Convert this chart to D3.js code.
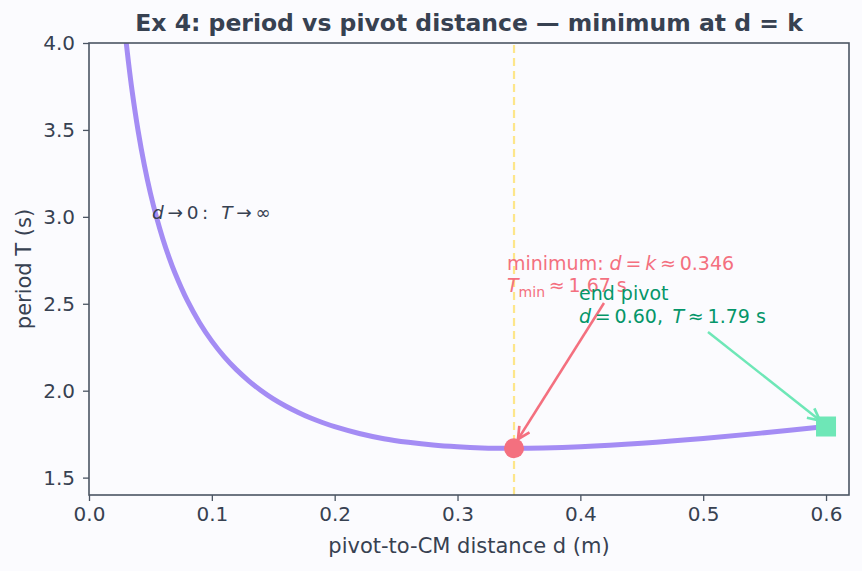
<!DOCTYPE html>
<html>
<head>
<meta charset="utf-8">
<script src="https://cdn.jsdelivr.net/npm/d3@7"></script>
<style>
  body { margin: 0; background: #fbfbfe; }
  svg { display: block; font-family: "DejaVu Sans", sans-serif; }
</style>
</head>
<body>
<svg id="chart"></svg>
<script>
// pivot distance d (m) and period T (s)
const dValues = [0.03, 0.032, 0.035, 0.04, 0.045, 0.05, 0.055, 0.06, 0.065, 0.07, 0.08, 0.09, 0.10, 0.11,
                 0.12, 0.13, 0.14, 0.15, 0.16, 0.17, 0.18, 0.19, 0.20, 0.22, 0.24, 0.26, 0.28, 0.30,
                 0.32, 0.346, 0.37, 0.40, 0.45, 0.50, 0.55, 0.60];
const tValues = [4.022, 3.897, 3.729, 3.494, 3.300, 3.136, 2.997, 2.876, 2.770, 2.677, 2.519, 2.391, 2.285, 2.196,
                 2.121, 2.057, 2.001, 1.953, 1.912, 1.876, 1.844, 1.817, 1.793, 1.754, 1.724, 1.703, 1.687, 1.677,
                 1.671, 1.669, 1.671, 1.678, 1.698, 1.725, 1.758, 1.794];
const xTicks = [0.0, 0.1, 0.2, 0.3, 0.4, 0.5, 0.6];
const yTicks = [1.5, 2.0, 2.5, 3.0, 3.5, 4.0];
const minPoint = { d: 0.346, T: 1.669 };
const endPoint = { d: 0.60, T: 1.794 };

const width = 862, height = 571;
const margin = { top: 43, right: 13, bottom: 76, left: 89 };

const ink = "#374151", axisCol = "#4b5563";
const curveCol = "#a48cf4", minCol = "#f4707f", endCol = "#6ee7b7", endText = "#059669";

const svg = d3.select("#chart").attr("width", width).attr("height", height);
svg.append("rect").attr("width", width).attr("height", height).attr("fill", "#fbfbfe");

const x = d3.scaleLinear().domain([0, 0.6187]).range([margin.left, width - margin.right]);
const y = d3.scaleLinear().domain([1.40, 4.0]).range([height - margin.bottom, margin.top]);

svg.append("defs").append("clipPath").attr("id", "plot")
  .append("rect")
  .attr("x", margin.left).attr("y", margin.top)
  .attr("width", width - margin.left - margin.right)
  .attr("height", height - margin.top - margin.bottom);

// vertical dashed line at d = k
svg.append("line")
  .attr("x1", x(minPoint.d)).attr("x2", x(minPoint.d))
  .attr("y1", y.range()[0]).attr("y2", y.range()[1])
  .attr("stroke", "#fde68a").attr("stroke-width", 2.2)
  .attr("stroke-dasharray", "8,5");

// the curve
const line = d3.line().x((d, i) => x(dValues[i])).y(d => y(d)).curve(d3.curveCatmullRom.alpha(0.5));
svg.append("path")
  .attr("clip-path", "url(#plot)")
  .attr("d", line(tValues))
  .attr("fill", "none").attr("stroke", curveCol).attr("stroke-width", 5);

// axes
const xAxis = svg.append("g")
  .attr("transform", `translate(0,${height - margin.bottom})`)
  .call(d3.axisBottom(x).tickValues(xTicks).tickFormat(d3.format(".1f")).tickSizeOuter(0).tickSize(6).tickPadding(6));
const yAxis = svg.append("g")
  .attr("transform", `translate(${margin.left},0)`)
  .call(d3.axisLeft(y).tickValues(yTicks).tickFormat(d3.format(".1f")).tickSizeOuter(0).tickSize(6).tickPadding(8));
[xAxis, yAxis].forEach(g => {
  g.select(".domain").remove();
  g.selectAll(".tick line").attr("stroke", axisCol).attr("stroke-width", 1.3);
  g.selectAll(".tick text").attr("fill", ink).style("font-size", "20px").style("font-family", "DejaVu Sans");
});

// frame
svg.append("rect")
  .attr("x", margin.left).attr("y", margin.top)
  .attr("width", width - margin.left - margin.right)
  .attr("height", height - margin.top - margin.bottom)
  .attr("fill", "none").attr("stroke", axisCol).attr("stroke-width", 1.6);

// labels
svg.append("text")
  .attr("x", (margin.left + width - margin.right) / 2).attr("y", 31)
  .attr("text-anchor", "middle").attr("fill", ink)
  .style("font-size", "23.5px").style("font-weight", "bold")
  .text("Ex 4: period vs pivot distance \u2014 minimum at d = k");
svg.append("text")
  .attr("x", (margin.left + width - margin.right) / 2).attr("y", 553)
  .attr("text-anchor", "middle").attr("fill", ink).style("font-size", "21px")
  .text("pivot-to-CM distance d (m)");
svg.append("text")
  .attr("transform", `translate(31,${(margin.top + height - margin.bottom) / 2}) rotate(-90)`)
  .attr("text-anchor", "middle").attr("fill", ink).style("font-size", "21px")
  .text("period T (s)");

// markers
svg.append("circle")
  .attr("cx", x(minPoint.d)).attr("cy", y(minPoint.T)).attr("r", 10)
  .attr("fill", minCol);
svg.append("rect")
  .attr("x", x(endPoint.d) - 10).attr("y", y(endPoint.T) - 10)
  .attr("width", 20).attr("height", 20).attr("fill", endCol);

// arrowheads
const defs = svg.select("defs");
[["arrMin", minCol], ["arrEnd", endCol]].forEach(([id, c]) => {
  defs.append("marker").attr("id", id)
    .attr("viewBox", "0 0 10 10").attr("refX", 9).attr("refY", 5)
    .attr("markerWidth", 6).attr("markerHeight", 6).attr("orient", "auto")
    .append("path").attr("d", "M1,1 L9,5 L1,9").attr("fill", "none")
    .attr("stroke", c).attr("stroke-width", 1.8);
});

// annotation arrows
svg.append("line")
  .attr("x1", 604).attr("y1", 303)
  .attr("x2", x(minPoint.d) + 4).attr("y2", y(minPoint.T) - 9)
  .attr("stroke", minCol).attr("stroke-width", 2.5).attr("marker-end", "url(#arrMin)");
svg.append("line")
  .attr("x1", 708).attr("y1", 332)
  .attr("x2", x(endPoint.d) - 6).attr("y2", y(endPoint.T) - 6)
  .attr("stroke", endCol).attr("stroke-width", 2.5).attr("marker-end", "url(#arrEnd)");

// annotation texts
function mathText(xp, yp, parts, color) {
  const t = svg.append("text").attr("x", xp).attr("y", yp).attr("fill", color).style("font-size", "19px");
  parts.forEach(p => {
    const s = t.append("tspan").text(p.s);
    if (p.i) s.style("font-style", "italic");
    if (p.sub) s.attr("dy", 5).style("font-size", "14px");
    if (p.up) s.attr("dy", -5);
  });
  return t;
}
mathText(152, 219, [{ s: "d", i: 1 }, { s: "\u2009\u2192\u20090\u2009:\u2002\u2009" }, { s: "T", i: 1 }, { s: "\u2009\u2192\u2009\u221e" }], ink)
  .style("font-size", "18.5px");
mathText(507, 270, [{ s: "minimum: " }, { s: "d", i: 1 }, { s: "\u2009=\u2009" }, { s: "k", i: 1 }, { s: "\u2009\u2248\u20090.346" }], minCol);
mathText(507, 292, [{ s: "T", i: 1 }, { s: "min", sub: 1 }, { s: "\u2009\u2248\u20091.67 s", up: 1 }], minCol);
mathText(579, 300, [{ s: "end pivot" }], endText);
mathText(579, 323, [{ s: "d", i: 1 }, { s: "\u2009=\u20090.60,\u2002" }, { s: "T", i: 1 }, { s: "\u2009\u2248\u20091.79 s" }], endText);
</script>
</body>
</html>
